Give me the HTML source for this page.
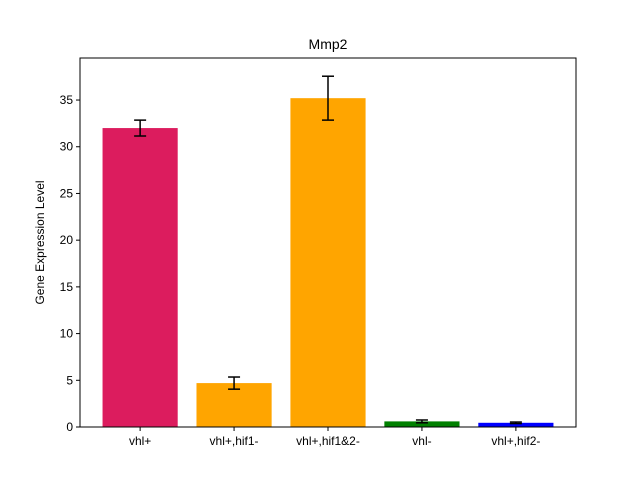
<!DOCTYPE html>
<html><head><meta charset="utf-8"><style>body{margin:0;background:#fff}svg{display:block;font-family:"Liberation Sans","DejaVu Sans",sans-serif}</style></head>
<body>
<svg id="chart" width="640" height="480">
<rect width="640" height="480" fill="#fff"/>
<text x="328" y="49" text-anchor="middle" font-size="14">Mmp2</text>
<text transform="translate(44,242.5) rotate(-90)" text-anchor="middle" font-size="12">Gene Expression Level</text>
<g id="bars"></g><g id="axes"></g>
</svg>
<script>
const categories=["vhl+","vhl+,hif1-","vhl+,hif1&2-","vhl-","vhl+,hif2-"];
const values=[32.0,4.7,35.2,0.6,0.45];
const errors=[0.85,0.65,2.35,0.15,0.08];
const colors=["#DC1C5E","#FFA500","#FFA500","#008000","#0000FF"];
const yTicks=[0,5,10,15,20,25,30,35];
const L=80,R=576,T=58,B=427,ymax=39.5,xmin=-0.64,xmax=4.64;
const ns="http://www.w3.org/2000/svg";
const X=v=>L+(v-xmin)/(xmax-xmin)*(R-L);
const Y=v=>B-v/ymax*(B-T);
function mk(tag,at,parent){const e=document.createElementNS(ns,tag);for(const k in at)e.setAttribute(k,at[k]);parent.appendChild(e);return e;}
const bars=document.getElementById('bars'),axes=document.getElementById('axes');
const bw=X(0.4)-X(-0.4);
categories.forEach((c,i)=>{
 const r=mk('rect',{x:X(i)-bw/2,y:Y(values[i]),width:bw,height:B-Y(values[i]),fill:colors[i]},bars);
 
 
 const g=mk('g',{stroke:'#000','stroke-width':1.5},bars);
 
 
 const cx=X(i),t=Y(values[i]+errors[i]),b=Y(values[i]-errors[i]);
 mk('line',{x1:cx,x2:cx,y1:t,y2:b},g);
 mk('line',{x1:cx-6,x2:cx+6,y1:t,y2:t},g);
 mk('line',{x1:cx-6,x2:cx+6,y1:b,y2:b},g);
 mk('line',{x1:cx,x2:cx,y1:B,y2:B+4,stroke:'#000'},axes);
 const tx=mk('text',{x:cx,y:B+18,'text-anchor':'middle','font-size':12},axes);
 tx.textContent=c;
 
 
});
yTicks.forEach(v=>{
 mk('line',{x1:L-4,x2:L,y1:Y(v),y2:Y(v),stroke:'#000'},axes);
 const tx=mk('text',{x:L-7,y:Y(v)+4,'text-anchor':'end','font-size':12},axes);
 tx.textContent=v;
 
 
});
const f=mk('rect',{x:L,y:T,width:R-L,height:B-T,fill:'none',stroke:'#000','stroke-width':1},axes);


</script>
</body></html>
